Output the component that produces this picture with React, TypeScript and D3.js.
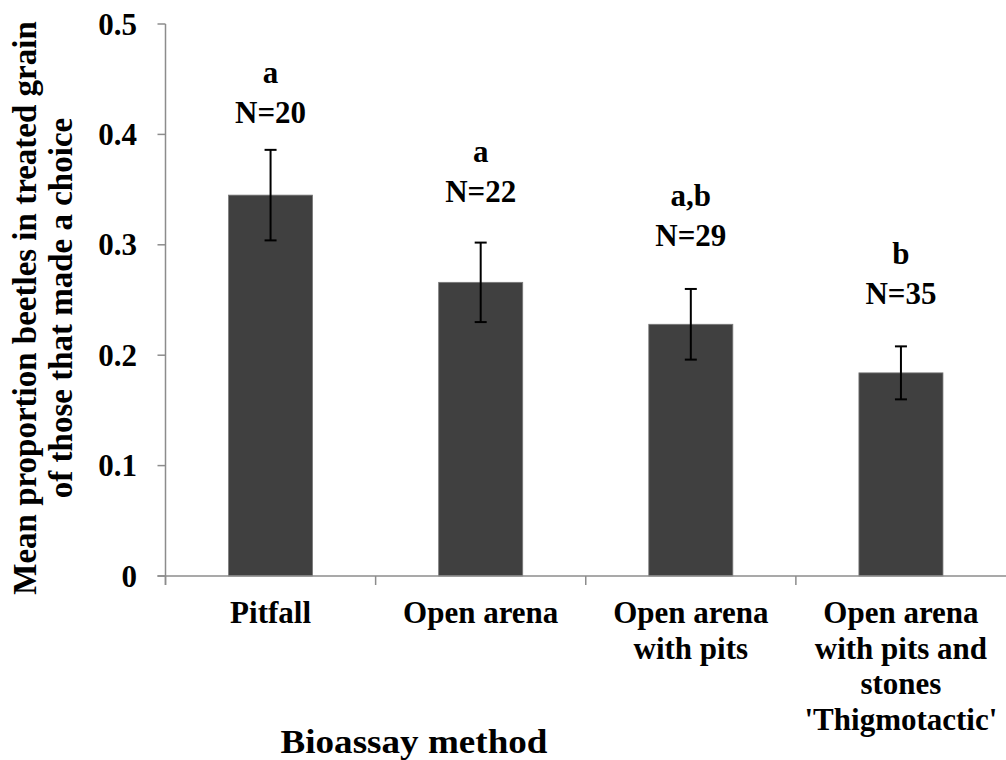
import { useEffect, useRef } from "react";
import * as d3 from "d3";

// Bioassay methods (x categories), each label split into lines
const methods = ["Pitfall", "Open arena", "Open arena with pits", "Open arena with pits and stones"];
const methodLines = [
  ["Pitfall"],
  ["Open arena"],
  ["Open arena", "with pits"],
  ["Open arena", "with pits and", "stones", "'Thigmotactic'"],
];

// mean proportion and its standard error
const means = [0.345, 0.266, 0.228, 0.184];
const errors = [0.041, 0.036, 0.032, 0.024];

// significance letters, sample sizes and the value where the N label sits
const letters = ["a", "a", "a,b", "b"];
const sampleSizes = [20, 22, 29, 35];
const labelLevels = [0.41, 0.339, 0.299, 0.246];

const yTicks = [0, 0.1, 0.2, 0.3, 0.4, 0.5];

const FONT = "Liberation Serif, Times New Roman, serif";

export default function App() {
  const svgRef = useRef(null);

  useEffect(() => {
    if (!svgRef.current) return;
    const svg = d3.select(svgRef.current);
    svg.selectAll("*").remove();

    const width = 1006;
    const height = 760;
    const left = 165.5;
    const right = 1006;
    const top = 24;
    const bottom = 576;
    const axisColor = "#8c8c8c";

    const x = d3.scaleBand().domain(methods).range([left, right]).padding(0);
    const y = d3.scaleLinear().domain([0, 0.5]).range([bottom, top]);
    const barW = x.bandwidth() * 0.4;

    svg.attr("width", width).attr("height", height);

    // bold serif text helper
    const label = (parent, px, py, str, size = 31, anchor = "middle") =>
      parent
        .append("text")
        .attr("x", px)
        .attr("y", py)
        .attr("text-anchor", anchor)
        .attr("font-family", FONT)
        .attr("font-size", size)
        .attr("font-weight", "bold")
        .attr("fill", "#000")
        .text(str);

    // bars
    svg
      .selectAll("rect.bar")
      .data(methods)
      .join("rect")
      .attr("class", "bar")
      .attr("x", (d) => x(d) + x.bandwidth() / 2 - barW / 2)
      .attr("width", barW)
      .attr("y", (_d, i) => y(means[i]))
      .attr("height", (_d, i) => y(0) - y(means[i]))
      .attr("fill", "#404040")
      .attr("stroke", "#7a7a7a")
      .attr("stroke-width", 0.8);

    // error bars
    const err = svg.append("g").attr("stroke", "#000").attr("stroke-width", 2);
    methods.forEach((m, i) => {
      const cx = x(m) + x.bandwidth() / 2;
      const hi = y(means[i] + errors[i]);
      const lo = y(means[i] - errors[i]);
      err.append("line").attr("x1", cx).attr("x2", cx).attr("y1", hi).attr("y2", lo);
      err.append("line").attr("x1", cx - 6).attr("x2", cx + 6).attr("y1", hi).attr("y2", hi);
      err.append("line").attr("x1", cx - 6).attr("x2", cx + 6).attr("y1", lo).attr("y2", lo);
    });

    // y axis
    const yAxis = svg.append("g");
    yAxis
      .append("line")
      .attr("x1", left)
      .attr("x2", left)
      .attr("y1", top)
      .attr("y2", bottom + 9)
      .attr("stroke", axisColor)
      .attr("stroke-width", 1.5);
    yTicks.forEach((t) => {
      yAxis
        .append("line")
        .attr("x1", left - 8)
        .attr("x2", left)
        .attr("y1", y(t))
        .attr("y2", y(t))
        .attr("stroke", axisColor)
        .attr("stroke-width", 1.5);
      label(yAxis, 137, y(t) + 10.5, t === 0 ? "0" : d3.format(".1f")(t), 31, "end");
    });

    // x axis
    const xAxis = svg.append("g");
    xAxis
      .append("line")
      .attr("x1", left - 8)
      .attr("x2", right)
      .attr("y1", bottom)
      .attr("y2", bottom)
      .attr("stroke", axisColor)
      .attr("stroke-width", 1.5);
    methods.forEach((m) => {
      xAxis
        .append("line")
        .attr("x1", x(m))
        .attr("x2", x(m))
        .attr("y1", bottom)
        .attr("y2", bottom + 9)
        .attr("stroke", axisColor)
        .attr("stroke-width", 1.5);
    });

    // category labels
    methods.forEach((m, i) => {
      const cx = x(m) + x.bandwidth() / 2;
      methodLines[i].forEach((line, j) => {
        label(svg, cx, 623 + j * 35.5, line);
      });
    });

    // letters and N labels above the bars
    methods.forEach((m, i) => {
      const cx = x(m) + x.bandwidth() / 2;
      const base = y(labelLevels[i]);
      label(svg, cx, base, `N=${sampleSizes[i]}`);
      label(svg, cx, base - 40, letters[i]);
    });

    // axis titles
    label(svg, 414, 753, "Bioassay method", 33)
      .attr("textLength", 267)
      .attr("lengthAdjust", "spacingAndGlyphs");

    const yTitle = svg
      .append("g")
      .attr("transform", "translate(0,308) rotate(-90)");
    label(yTitle, 0, 36, "Mean proportion beetles in treated grain", 33);
    label(yTitle, 0, 72, "of those that made a choice", 33);
  }, []);

  return <svg ref={svgRef} style={{ position: "absolute", left: 0, top: 0, background: "#fff" }} />;
}
